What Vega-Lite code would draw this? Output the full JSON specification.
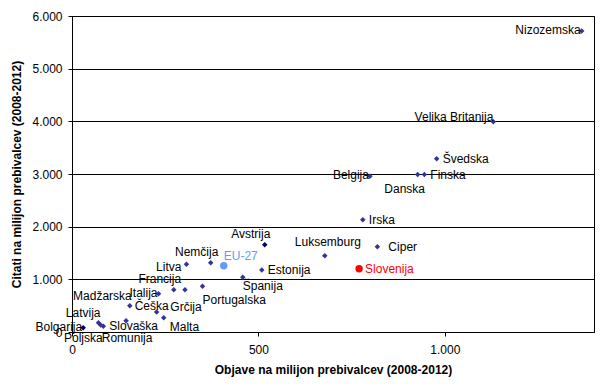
{
  "$schema": "https://vega.github.io/schema/vega-lite/v6.json",
  "autosize": "none",
  "width": 522,
  "height": 316,
  "padding": {"left": 72, "top": 16, "right": 22, "bottom": 55},
  "background": "white",
  "config": {
    "font": "Liberation Sans",
    "view": {"stroke": "black", "strokeWidth": 1},
    "axis": {"labelFont": "Liberation Sans", "titleFont": "Liberation Sans", "labelFontSize": 12, "titleFontSize": 12, "titleFontWeight": "bold", "labelColor": "black", "titleColor": "black", "domainColor": "black", "tickColor": "black", "tickSize": 4, "labelFlush": false},
    "text": {"font": "Liberation Sans", "fontSize": 12}
  },
  "data": {
    "values": [
      {"c": "Nizozemska", "x": 1367, "y": 5715, "g": "other"},
      {"c": "Velika Britanija", "x": 1130, "y": 3990, "g": "other"},
      {"c": "Švedska", "x": 978, "y": 3290, "g": "other"},
      {"c": "Finska", "x": 945, "y": 2990, "g": "other"},
      {"c": "Danska", "x": 927, "y": 2990, "g": "other"},
      {"c": "Belgija", "x": 799, "y": 2956, "g": "other"},
      {"c": "Irska", "x": 780, "y": 2133, "g": "other"},
      {"c": "Ciper", "x": 819, "y": 1620, "g": "other"},
      {"c": "Luksemburg", "x": 678, "y": 1449, "g": "other"},
      {"c": "Slovenija", "x": 770, "y": 1202, "g": "SI"},
      {"c": "Avstrija", "x": 517, "y": 1658, "g": "dark"},
      {"c": "EU-27", "x": 407, "y": 1259, "g": "EU"},
      {"c": "Nemčija", "x": 372, "y": 1316, "g": "other"},
      {"c": "Litva", "x": 307, "y": 1285, "g": "other"},
      {"c": "Estonija", "x": 509, "y": 1177, "g": "other"},
      {"c": "Španija", "x": 458, "y": 1038, "g": "other"},
      {"c": "Portugalska", "x": 350, "y": 868, "g": "other"},
      {"c": "Francija", "x": 273, "y": 803, "g": "other"},
      {"c": "Grčija", "x": 303, "y": 803, "g": "other"},
      {"c": "Italija", "x": 232, "y": 727, "g": "other"},
      {"c": "Madžarska", "x": 155, "y": 499, "g": "other"},
      {"c": "Češka", "x": 227, "y": 380, "g": "other"},
      {"c": "Malta", "x": 246, "y": 272, "g": "other"},
      {"c": "Slovaška", "x": 84, "y": 108, "g": "other"},
      {"c": "Romunija", "x": 145, "y": 215, "g": "other"},
      {"c": "Poljska", "x": 77, "y": 133, "g": "other"},
      {"c": "Latvija", "x": 71, "y": 177, "g": "other"},
      {"c": "Bolgarija", "x": 30, "y": 82, "g": "dark"}
    ]
  },
  "encoding": {
    "x": {"field": "x", "type": "quantitative", "scale": {"domain": [0, 1400], "nice": false}, "axis": {"title": "Objave na milijon prebivalcev (2008-2012)", "values": [0, 500, 1000], "grid": false, "labelExpr": "replace(format(datum.value, ','), ',', '.')", "labelPadding": 8, "titlePadding": 9}},
    "y": {"field": "y", "type": "quantitative", "scale": {"domain": [0, 6000], "nice": false}, "axis": {"title": "Citati na milijon prebivalcev (2008-2012)", "values": [0, 1000, 2000, 3000, 4000, 5000, 6000], "grid": true, "gridColor": "black", "gridOpacity": 1, "labelExpr": "replace(format(datum.value, ','), ',', '.')", "labelPadding": 6, "titlePadding": 8}}
  },
  "layer": [
    {
      "mark": {"type": "point", "filled": true, "opacity": 1},
      "encoding": {
        "shape": {"condition": {"test": "datum.g === 'EU' || datum.g === 'SI'", "value": "circle"}, "value": "diamond"},
        "size": {"condition": {"test": "datum.g === 'EU' || datum.g === 'SI'", "value": 55}, "value": 30},
        "color": {"condition": [{"test": "datum.g === 'EU'", "value": "#6699FF"}, {"test": "datum.g === 'SI'", "value": "#FF0000"}, {"test": "datum.g === 'dark'", "value": "#000066"}], "value": "#333399"}
      }
    },
    {
      "encoding": {
        "text": {"field": "c", "type": "nominal"},
        "color": {"condition": [{"test": "datum.g === 'EU'", "value": "#6699FF"}, {"test": "datum.g === 'SI'", "value": "#FF0000"}], "value": "black"}
      },
      "layer": [
        {"transform": [{"filter": {"field": "c", "oneOf": ["Švedska", "Finska", "Irska", "Slovenija", "Estonija", "Slovaška"]}}], "mark": {"type": "text", "align": "left", "baseline": "middle", "dx": 6}},
        {"transform": [{"filter": {"field": "c", "oneOf": ["Ciper"]}}], "mark": {"type": "text", "align": "left", "baseline": "middle", "dx": 11}},
        {"transform": [{"filter": {"field": "c", "oneOf": ["Nizozemska", "Belgija", "Italija", "Bolgarija"]}}], "mark": {"type": "text", "align": "right", "baseline": "middle", "dx": -1, "dy": -1}},
        {"transform": [{"filter": {"field": "c", "oneOf": ["Litva"]}}], "mark": {"type": "text", "align": "right", "baseline": "middle", "dx": -5, "dy": 3}},
        {"transform": [{"filter": {"field": "c", "oneOf": ["Velika Britanija"]}}], "mark": {"type": "text", "align": "right", "baseline": "middle", "dx": 0, "dy": -5}},
        {"transform": [{"filter": {"field": "c", "oneOf": ["Danska"]}}], "mark": {"type": "text", "align": "center", "baseline": "middle", "dx": -13, "dy": 14}},
        {"transform": [{"filter": {"field": "c", "oneOf": ["Grčija", "Romunija"]}}], "mark": {"type": "text", "align": "center", "baseline": "middle", "dx": 1, "dy": 17}},
        {"transform": [{"filter": {"field": "c", "oneOf": ["Španija"]}}], "mark": {"type": "text", "align": "left", "baseline": "middle", "dx": 0, "dy": 9}},
        {"transform": [{"filter": {"field": "c", "oneOf": ["Portugalska"]}}], "mark": {"type": "text", "align": "left", "baseline": "middle", "dx": 0, "dy": 14}},
        {"transform": [{"filter": {"field": "c", "oneOf": ["Malta"]}}], "mark": {"type": "text", "align": "left", "baseline": "middle", "dx": 6, "dy": 9}},
        {"transform": [{"filter": {"field": "c", "oneOf": ["Poljska"]}}], "mark": {"type": "text", "align": "right", "baseline": "middle", "dx": 2, "dy": 13}},
        {"transform": [{"filter": {"field": "c", "oneOf": ["Luksemburg"]}}], "mark": {"type": "text", "align": "center", "baseline": "middle", "dx": 3, "dy": -14}},
        {"transform": [{"filter": {"field": "c", "oneOf": ["Avstrija", "Francija", "Nemčija"]}}], "mark": {"type": "text", "align": "center", "baseline": "middle", "dx": -14, "dy": -11}},
        {"transform": [{"filter": {"field": "c", "oneOf": ["EU-27"]}}], "mark": {"type": "text", "align": "left", "baseline": "middle", "dx": 0, "dy": -10}},
        {"transform": [{"filter": {"field": "c", "oneOf": ["Madžarska", "Latvija"]}}], "mark": {"type": "text", "align": "right", "baseline": "middle", "dx": 2, "dy": -10}},
        {"transform": [{"filter": {"field": "c", "oneOf": ["Češka"]}}], "mark": {"type": "text", "align": "center", "baseline": "middle", "dx": -5, "dy": -6}}
      ]
    }
  ]
}
